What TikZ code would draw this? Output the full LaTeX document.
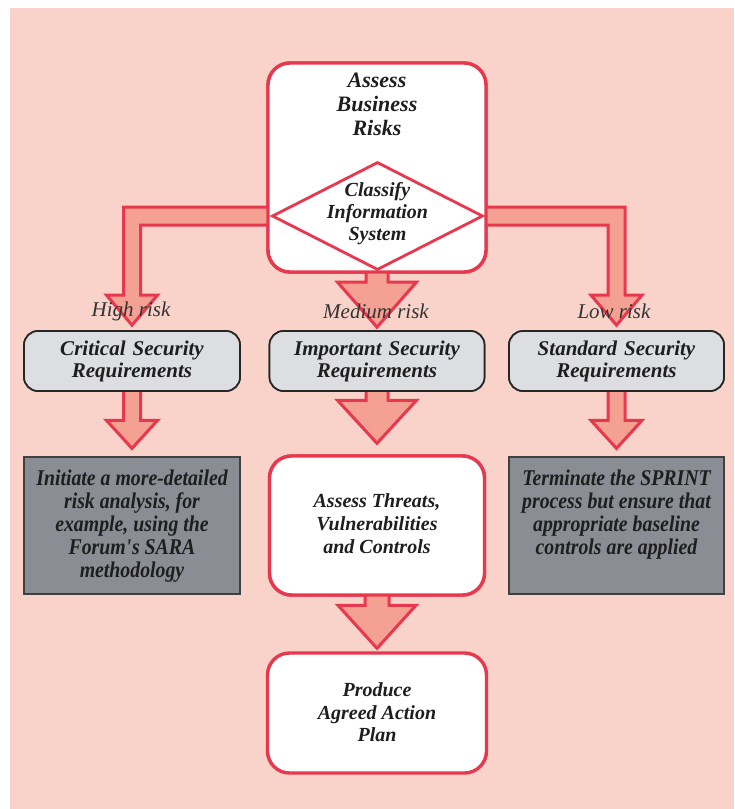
\documentclass[tikz,border=0pt]{standalone}
\usepackage{fontspec}
\setmainfont{Liberation Serif}
\newfontfamily\condfont{Liberation Serif}[FakeStretch=0.88]
\usetikzlibrary{shapes.geometric,calc}
\definecolor{bgpink}{HTML}{F9D3C9}
\definecolor{redline}{HTML}{E8384D}
\definecolor{arrowfill}{HTML}{F4A092}
\definecolor{lightbox}{HTML}{DDDEE1}
\definecolor{darkbox}{HTML}{8A8D93}
\definecolor{txt}{HTML}{1E1E1E}
\definecolor{labeltxt}{HTML}{333333}
\newcommand{\blockdown}[5]{%
  \draw[blockarrow] ($(#1)+(-#3,-6)$) -- ($(#2)+(-#3,-#5)$) -- ($(#2)+(-#4,-#5)$) -- (#2)
    -- ($(#2)+(#4,-#5)$) -- ($(#2)+(#3,-#5)$) -- ($(#1)+(#3,-6)$) -- cycle;}
\begin{document}
\begin{tikzpicture}[x=1pt,y=-1pt,
  redbox/.style={draw=redline,line width=3.4pt,fill=white,rounded corners=22pt,inner sep=0pt},
  reqbox/.style={draw=black!85,line width=1.7pt,fill=lightbox,rounded corners=14pt,inner sep=0pt,
    minimum height=60pt,text width=210pt,align=center,text=txt,
    font=\bfseries\itshape\fontsize{21}{22}\selectfont},
  darkrect/.style={draw=black!75,line width=1.2pt,fill=darkbox,inner sep=0pt,minimum width=216pt,minimum height=137pt},
  boxtext/.style={text=txt,align=center,inner sep=0pt,font=\bfseries\itshape\fontsize{20}{23}\selectfont},
  darktext/.style={text=txt,align=center,inner sep=0pt,font=\condfont\bfseries\itshape\fontsize{22.5}{23}\selectfont},
  risklabel/.style={text=labeltxt,inner sep=0pt,font=\itshape\fontsize{21}{22}\selectfont},
  blockarrow/.style={draw=redline,line width=3pt,fill=arrowfill,line join=miter}]
\useasboundingbox (0,0) rectangle (734,809);
\fill[white] (0,0) rectangle (734,809);
\fill[bgpink] (10,8) rectangle (734,809);

% ---------- nodes (boxes) ----------
\path (377,167.5) node[redbox,minimum width=218pt,minimum height=209pt] (top) {};
\path (132,361) node[reqbox,minimum width=216pt] (crit) {};
\path (377,361) node[reqbox,minimum width=215pt] (imp) {};
\path (616.5,361) node[reqbox,minimum width=215pt] (std) {};

% tips of the arrows
\coordinate (LT) at ($(crit.north)+(0,-5)$);
\coordinate (RT) at ($(std.north)+(0,-5)$);
\coordinate (MT) at ($(imp.north)+(0,-3)$);

% ---------- block arrows ----------
\path (377.5,216) coordinate (clsc);
\path ($(clsc)+(-104.5,0)$) coordinate (clsW);
\path ($(clsc)+(104.5,0)$) coordinate (clsE);
\draw[blockarrow] ($(clsW)+(0,-9)$) -| ($(LT)+(-8.5,-30)$) -- ++(-17,0) -- (LT) -- ++(25.5,-30) -- ++(-17,0)
   |- ($(clsW)+(0,9)$) -- cycle;
\draw[blockarrow] ($(clsE)+(0,-9)$) -| ($(RT)+(8.5,-30)$) -- ++(17,0) -- (RT) -- ++(-25.5,-30) -- ++(17,0)
   |- ($(clsE)+(0,9)$) -- cycle;
\blockdown{top.south}{MT}{11}{39.5}{45}

% redraw top box over the arrow ends
\path (377,167.5) node[redbox,minimum width=218pt,minimum height=209pt] (topbox) {};
\node[diamond,draw=redline,line width=2.8pt,fill=white,minimum width=211pt,minimum height=108pt,inner sep=0pt] (cls) at (clsc) {};
\node[boxtext,font=\bfseries\itshape\fontsize{22}{24}\selectfont] (toptext) at (377,104) {Assess\\Business\\Risks};
\node[boxtext,font=\bfseries\itshape\fontsize{20}{22}\selectfont] (clstext) at (377.5,214) {Classify\\Information\\System};

% lower boxes
\path (132,525.5) node[darkrect] (init) {};
\path (616.5,525.5) node[darkrect,minimum width=215pt] (term) {};
\path (377,525.5) node[redbox,minimum width=215pt,minimum height=139pt] (threats) {};
\path (377,713) node[redbox,minimum width=219pt,minimum height=120pt] (prod) {};

\coordinate (LT2) at ($(init.north)+(0,-8)$);
\coordinate (RT2) at ($(term.north)+(0,-8)$);
\coordinate (MT2) at ($(threats.north)+(0,-11)$);
\coordinate (MT3) at ($(prod.north)+(0,-3)$);
\blockdown{crit.south}{LT2}{8.5}{25.5}{28}
\blockdown{std.south}{RT2}{8.5}{25.5}{28}
\blockdown{imp.south}{MT2}{11}{39.5}{43}
\blockdown{threats.south}{MT3}{12}{39}{43}

% redraw boxes touched by arrow starts
\path (132,361) node[reqbox,minimum width=216pt] (crit2) {Critical Security\\Requirements};
\path (377,361) node[reqbox,minimum width=215pt] (imp2) {Important Security\\Requirements};
\path (616.5,361) node[reqbox,minimum width=215pt] (std2) {Standard Security\\Requirements};
\path (377,525.5) node[redbox,minimum width=215pt,minimum height=139pt] (threats2) {};

% texts
\node[darktext] (inittext) at (132,526) {Initiate a more-detailed\\risk analysis, for\\example, using the\\Forum\textquotesingle s SARA\\methodology};
\node[darktext] (termtext) at (616.5,514.5) {Terminate the SPRINT\\process but ensure that\\appropriate baseline\\controls are applied};
\node[boxtext] (threatstext) at (377,524) {Assess Threats,\\Vulnerabilities\\and Controls};
\node[boxtext,font=\bfseries\itshape\fontsize{20}{22.5}\selectfont] (prodtext) at (377,712.5) {Produce\\Agreed Action\\Plan};

% risk labels
\node[risklabel] (hi) at (131,311) {High risk};
\node[risklabel] (med) at (376,311) {Medium risk};
\node[risklabel] (lo) at (614,311) {Low risk};
\end{tikzpicture}
\end{document}
